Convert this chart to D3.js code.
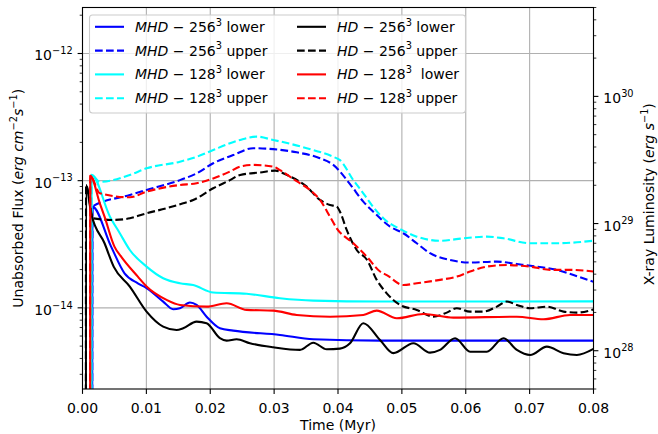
<!DOCTYPE html>
<html>
<head>
<meta charset="utf-8">
<script src="https://cdn.jsdelivr.net/npm/d3@7"></script>
<style>
  body { margin: 0; background: #fff; }
  svg text { font-family: "DejaVu Sans", sans-serif; white-space: pre; }
</style>
</head>
<body>
<svg id="chart" width="658" height="434"></svg>
<script>
// values: [time (Myr), unabsorbed flux (erg cm^-2 s^-1)]
// first point of every run is the zero flux at t ~ 0, drawn as a drop off the axis
var mhd256Lower = [[0.00150,1e-17],[0.00155,6.25e-14],[0.00448,3.03e-14],[0.00658,1.87e-14],[0.00866,1.56e-14],[0.01003,1.43e-14],[0.01263,1.12e-14],[0.0142,9.75e-15],[0.01525,9.93e-15],[0.01681,1.10e-14],[0.01786,1.054e-14],[0.01943,8.52e-15],[0.02151,6.91e-15],[0.0236,6.62e-15],[0.03091,6.12e-15],[0.03613,5.66e-15],[0.04658,5.52e-15],[0.08,5.52e-15]]
var mhd256Upper = [[0.00150,1e-17],[0.00155,6.25e-14],[0.00741,7.72e-14],[0.01003,8.45e-14],[0.01525,1.01e-13],[0.01786,1.14e-13],[0.02046,1.37e-13],[0.0236,1.59e-13],[0.02673,1.80e-13],[0.02986,1.77e-13],[0.03353,1.67e-13],[0.03718,1.50e-13],[0.03926,1.33e-13],[0.04188,9.4e-14],[0.04396,6.84e-14],[0.04553,5.7e-14],[0.04815,4.35e-14],[0.05023,3.86e-14],[0.05233,3.22e-14],[0.05441,2.69e-14],[0.05755,2.38e-14],[0.06068,2.27e-14],[0.06487,2.31e-14],[0.068,2.21e-14],[0.07113,2.11e-14],[0.07427,1.99e-14],[0.07687,1.81e-14],[0.08,1.60e-14]]
var mhd128Lower = [[0.00138,1e-17],[0.00142,1.11e-13],[0.0043,5.21e-14],[0.00584,3.86e-14],[0.00741,2.85e-14],[0.01003,2.11e-14],[0.01263,1.71e-14],[0.01525,1.56e-14],[0.01733,1.51e-14],[0.02046,1.32e-14],[0.0257,1.29e-14],[0.03091,1.19e-14],[0.03613,1.14e-14],[0.04658,1.12e-14],[0.08,1.125e-14]]
var mhd128Upper = [[0.00138,1e-17],[0.00142,1.11e-13],[0.00271,9.8e-14],[0.00741,1.11e-13],[0.01003,1.25e-13],[0.01525,1.41e-13],[0.01786,1.54e-13],[0.02046,1.74e-13],[0.02308,1.97e-13],[0.02468,2.09e-13],[0.02726,2.22e-13],[0.02986,2.09e-13],[0.0351,1.80e-13],[0.03926,1.54e-13],[0.04031,1.45e-13],[0.0424,1.01e-13],[0.04396,7.96e-14],[0.04553,6.2e-14],[0.0471,5.06e-14],[0.04998,4.10e-14],[0.05233,3.63e-14],[0.05598,3.37e-14],[0.05963,3.52e-14],[0.0633,3.63e-14],[0.0659,3.52e-14],[0.07008,3.22e-14],[0.07427,3.22e-14],[0.08,3.37e-14]]
var hd256Lower = [[0.00050,1e-17],[0.00056,9.25e-14],[0.00135,5.54e-14],[0.00345,3.22e-14],[0.0049,2.1e-14],[0.00741,1.47e-14],[0.01003,9.34e-15],[0.01263,7.12e-15],[0.01473,6.70e-15],[0.01576,6.91e-15],[0.01786,7.79e-15],[0.01943,7.57e-15],[0.02151,5.77e-15],[0.02256,5.52e-15],[0.02413,5.66e-15],[0.02621,5.27e-15],[0.02986,4.90e-15],[0.03405,4.67e-15],[0.03613,5.32e-15],[0.03823,4.72e-15],[0.04031,4.78e-15],[0.04188,5.27e-15],[0.04396,7.57e-15],[0.04658,5.59e-15],[0.04867,4.40e-15],[0.0518,5.27e-15],[0.05441,4.44e-15],[0.05598,4.67e-15],[0.05833,5.77e-15],[0.06068,4.52e-15],[0.0633,4.52e-15],[0.0659,5.77e-15],[0.068,4.67e-15],[0.07008,4.26e-15],[0.0727,4.95e-15],[0.0753,4.40e-15],[0.0774,4.26e-15],[0.08,4.75e-15]]
var hd256Upper = [[0.00050,1e-17],[0.00056,9.25e-14],[0.00166,5.06e-14],[0.0048,4.91e-14],[0.00741,5.06e-14],[0.01003,5.54e-14],[0.01316,6.07e-14],[0.01576,6.64e-14],[0.01733,7.05e-14],[0.02046,8.71e-14],[0.02308,1.01e-13],[0.02468,1.11e-13],[0.0278,1.16e-13],[0.0302,1.20e-13],[0.03196,1.11e-13],[0.0351,8.97e-14],[0.03718,7.05e-14],[0.03875,6.44e-14],[0.0398,6.25e-14],[0.04031,5.70e-14],[0.04136,4.10e-14],[0.04293,2.85e-14],[0.0445,2.4e-14],[0.04606,1.66e-14],[0.04763,1.30e-14],[0.04971,1.054e-14],[0.05233,9.63e-15],[0.05493,8.52e-15],[0.05703,9.17e-15],[0.0586,9.93e-15],[0.06068,9.34e-15],[0.06277,9.34e-15],[0.06487,1.022e-14],[0.06643,1.12e-14],[0.068,1.054e-14],[0.07008,9.93e-15],[0.0727,1.022e-14],[0.0753,9.34e-15],[0.0774,9.17e-15],[0.08,9.7e-15]]
var hd128Lower = [[0.00118,1e-17],[0.00122,1.09e-13],[0.00271,6.64e-14],[0.00345,5.21e-14],[0.005,3.03e-14],[0.00605,2.53e-14],[0.00866,1.76e-14],[0.01003,1.47e-14],[0.01316,1.154e-14],[0.01525,1.054e-14],[0.01943,1.022e-14],[0.02256,1.087e-14],[0.0257,9.63e-15],[0.02986,9.51e-15],[0.03353,8.79e-15],[0.03875,8.52e-15],[0.04396,8.79e-15],[0.04606,9.51e-15],[0.0492,8.28e-15],[0.05337,8.95e-15],[0.05807,8.37e-15],[0.068,8.52e-15],[0.07217,8.13e-15],[0.07635,8.79e-15],[0.08,8.79e-15]]
var hd128Upper = [[0.00118,1e-17],[0.00122,1.09e-13],[0.00271,7.96e-14],[0.00741,7.40e-14],[0.01003,8.19e-14],[0.01525,9.25e-14],[0.01786,9.54e-14],[0.02046,1.04e-13],[0.02308,1.18e-13],[0.02468,1.29e-13],[0.02673,1.33e-13],[0.02986,1.29e-13],[0.03091,1.21e-13],[0.03353,9.9e-14],[0.03561,8.45e-14],[0.03718,7.05e-14],[0.03875,5.21e-14],[0.0398,4.22e-14],[0.0424,3.22e-14],[0.0445,2.53e-14],[0.04658,1.93e-14],[0.04763,1.81e-14],[0.05023,1.51e-14],[0.05233,1.56e-14],[0.05598,1.66e-14],[0.0586,1.76e-14],[0.06068,1.93e-14],[0.0633,2.11e-14],[0.06643,2.17e-14],[0.07008,2.11e-14],[0.07322,1.99e-14],[0.07635,1.99e-14],[0.08,1.93e-14]]

// plotting order = legend order (column by column)
var seriesData = [mhd256Lower, mhd256Upper, mhd128Lower, mhd128Upper, hd256Lower, hd256Upper, hd128Lower, hd128Upper]
var seriesColor = ["#0000ff", "#0000ff", "#00ffff", "#00ffff", "#000000", "#000000", "#ff0000", "#ff0000"]
var seriesDashed = [false, true, false, true, false, true, false, true]
var seriesName = ["MHD", "MHD", "MHD", "MHD", "HD", "HD", "HD", "HD"]
var seriesRes = ["256", "256", "128", "128", "256", "256", "128", "128"]
var seriesBound = [" lower", " upper", " lower", " upper", " lower", " upper", "  lower", " upper"]

var xTicks = [0, 0.01, 0.02, 0.03, 0.04, 0.05, 0.06, 0.07, 0.08]
var yTicks = [1e-14, 1e-13, 1e-12]
var y2Ticks = [1e28, 1e29, 1e30]

const mLeft = 82.5, mRight = 593.5, mTop = 7.5, mBottom = 389
const svg = d3.select("#chart")

const x = d3.scaleLinear().domain([0, 0.08]).range([mLeft, mRight])
const y = d3.scaleLog().domain([2.3e-15, 2.3e-12]).range([mBottom, mTop])
const y2 = d3.scaleLog().domain([5e27, 5e30]).range([mBottom, mTop])

// text with italic bits and superscripts, like matplotlib mathtext
function rich (sel, parts, fs) {
    var shift = 0
    parts.forEach(p => {
        var ts = sel.append("tspan").text(p.t)
        var want = p.sup ? -0.45 * fs : 0
        if (want - shift != 0) ts.attr("dy", want - shift)
        shift = want
        if (p.sup) ts.attr("font-size", fs * 0.7)
        if (p.it) ts.attr("font-style", "italic")
    })
}

function minorTicks (lo, hi) {
    var out = []
    for (var e = Math.floor(Math.log10(lo)); e <= Math.ceil(Math.log10(hi)); e++) {
        for (var m = 2; m <= 9; m++) {
            var v = m * Math.pow(10, e)
            if (v >= lo && v <= hi) out.push(v)
        }
    }
    return out
}

// grid
svg.append("g").selectAll("line").data(xTicks).join("line")
    .attr("x1", d => x(d)).attr("x2", d => x(d)).attr("y1", mTop).attr("y2", mBottom)
    .attr("stroke", "#b0b0b0").attr("stroke-width", 1.1)
svg.append("g").selectAll("line").data(yTicks).join("line")
    .attr("x1", mLeft).attr("x2", mRight).attr("y1", d => y(d)).attr("y2", d => y(d))
    .attr("stroke", "#b0b0b0").attr("stroke-width", 1.1)

// curves
svg.append("clipPath").attr("id", "clip").append("rect")
    .attr("x", mLeft).attr("y", mTop).attr("width", mRight - mLeft).attr("height", mBottom - mTop)

const line = d3.line()
    .x(d => x(d[0]))
    .y(d => y(d[1]))
    .curve(d3.curveMonotoneX)

const plot = svg.append("g").attr("clip-path", "url(#clip)")
seriesData.forEach((s, i) => {
    plot.append("path")
        .attr("d", line(s))
        .attr("fill", "none")
        .attr("stroke", seriesColor[i])
        .attr("stroke-width", 2.1)
        .attr("stroke-linejoin", "round")
        .attr("stroke-dasharray", seriesDashed[i] ? "7.7,3.3" : null)
})

// axes
const ax = svg.append("g").attr("stroke", "#000").attr("stroke-width", 1.1)
ax.selectAll(".xt").data(xTicks).join("line")
    .attr("x1", d => x(d)).attr("x2", d => x(d)).attr("y1", mBottom).attr("y2", mBottom + 4.9)
ax.selectAll(".yt").data(yTicks).join("line")
    .attr("x1", mLeft).attr("x2", mLeft - 4.9).attr("y1", d => y(d)).attr("y2", d => y(d))
ax.selectAll(".ym").data(minorTicks(2.3e-15, 2.3e-12)).join("line")
    .attr("x1", mLeft).attr("x2", mLeft - 2.8).attr("y1", d => y(d)).attr("y2", d => y(d))
    .attr("stroke-width", 0.8)
ax.selectAll(".y2t").data(y2Ticks).join("line")
    .attr("x1", mRight).attr("x2", mRight + 4.9).attr("y1", d => y2(d)).attr("y2", d => y2(d))
ax.selectAll(".y2m").data(minorTicks(5e27, 5e30)).join("line")
    .attr("x1", mRight).attr("x2", mRight + 2.8).attr("y1", d => y2(d)).attr("y2", d => y2(d))
    .attr("stroke-width", 0.8)

svg.append("rect")
    .attr("x", mLeft).attr("y", mTop).attr("width", mRight - mLeft).attr("height", mBottom - mTop)
    .attr("fill", "none").attr("stroke", "#000").attr("stroke-width", 1.1)

// tick labels
svg.append("g").selectAll("text").data(xTicks).join("text")
    .attr("x", d => x(d)).attr("y", 413)
    .attr("text-anchor", "middle").attr("font-size", 14).attr("fill", "#000")
    .text(d => d3.format(".2f")(d))

svg.append("g").selectAll("text").data(yTicks).join("text")
    .attr("x", mLeft - 9.8).attr("y", d => y(d) + 7)
    .attr("text-anchor", "end").attr("font-size", 14).attr("fill", "#000")
    .each(function (d) {
        rich(d3.select(this), [{t: "10"}, {t: "\u2212" + Math.abs(Math.round(Math.log10(d))), sup: true}], 14)
    })

svg.append("g").selectAll("text").data(y2Ticks).join("text")
    .attr("x", mRight + 9.8).attr("y", d => y2(d) + 7)
    .attr("text-anchor", "start").attr("font-size", 14).attr("fill", "#000")
    .each(function (d) {
        rich(d3.select(this), [{t: "10"}, {t: String(Math.round(Math.log10(d))), sup: true}], 14)
    })

// axis titles
svg.append("text").attr("x", (mLeft + mRight) / 2).attr("y", 430)
    .attr("text-anchor", "middle").attr("font-size", 14).text("Time (Myr)")

var ylab = svg.append("text")
    .attr("transform", `translate(23,${(mTop + mBottom) / 2}) rotate(-90)`)
    .attr("text-anchor", "middle").attr("font-size", 14)
rich(ylab, [{t: "Unabsorbed Flux ("}, {t: "erg cm", it: true}, {t: "\u22122", sup: true}, {t: "s", it: true}, {t: "\u22121", sup: true}, {t: ")"}], 14)

var y2lab = svg.append("text")
    .attr("transform", `translate(654,${(mTop + mBottom) / 2 - 4}) rotate(-90)`)
    .attr("text-anchor", "middle").attr("font-size", 14)
rich(y2lab, [{t: "X-ray Luminosity ("}, {t: "erg s", it: true}, {t: "\u22121", sup: true}, {t: ")"}], 14)

// legend
const leg = svg.append("g")
leg.append("rect")
    .attr("x", 89.5).attr("y", 15).attr("width", 376).attr("height", 98)
    .attr("rx", 3).attr("fill", "#fff").attr("fill-opacity", 0.8)
    .attr("stroke", "#cccccc").attr("stroke-width", 1.1)

seriesData.forEach((s, i) => {
    var col = Math.floor(i / 4), row = i % 4
    var lx = col == 0 ? 95 : 297
    var ly = 26.8 + row * 23.8
    leg.append("line")
        .attr("x1", lx).attr("x2", lx + 29).attr("y1", ly).attr("y2", ly)
        .attr("stroke", seriesColor[i]).attr("stroke-width", 2.1)
        .attr("stroke-dasharray", seriesDashed[i] ? "7.7,3.3" : null)
    var t = leg.append("text").attr("x", lx + 40).attr("y", ly + 5).attr("font-size", 14)
    rich(t, [{t: seriesName[i], it: true}, {t: " \u2212 " + seriesRes[i]}, {t: "3", sup: true}, {t: seriesBound[i]}], 14)
})
</script>
</body>
</html>
